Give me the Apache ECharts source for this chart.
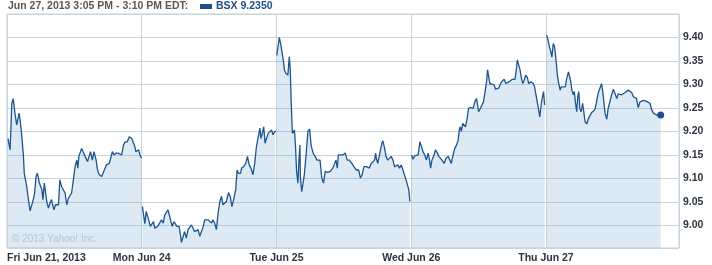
<!DOCTYPE html>
<html><head><meta charset="utf-8">
<script src="https://cdn.jsdelivr.net/npm/echarts@6/dist/echarts.min.js"></script>
<style>html,body{margin:0;padding:0;background:#fff}#c{width:712px;height:265px}</style>
</head><body><div id="c"></div>
<script>
// Trading-day labels (x axis), one trading day = 390 minutes (9:30–16:00)
const dayLabels = ['Fri Jun 21, 2013', 'Mon Jun 24', 'Tue Jun 25', 'Wed Jun 26', 'Thu Jun 27'];
const minutesPerDay = 390;
const headerText = 'Jun 27, 2013 3:05 PM - 3:10 PM EDT:';
const ticker = 'BSX';

// [minutes after open, price]
const fri = [[3,9.185],[9,9.161],[14,9.260],[18,9.270],[23,9.239],[28,9.214],[31,9.210],[35,9.239],[38,9.224],[42,9.196],[47,9.154],[50,9.111],[57,9.083],[62,9.055],[67,9.031],[70,9.031],[76,9.055],[80,9.069],[84,9.104],[88,9.111],[94,9.090],[97,9.090],[101,9.076],[104,9.055],[108,9.090],[112,9.090],[115,9.051],[120,9.037],[124,9.047],[129,9.055],[132,9.044],[136,9.033],[140,9.044],[144,9.040],[149,9.044],[153,9.097],[158,9.083],[163,9.076],[168,9.069],[173,9.044],[178,9.058],[182,9.062],[187,9.069],[192,9.097],[197,9.125],[202,9.139],[205,9.122],[208,9.147],[211,9.150],[216,9.164],[221,9.161],[226,9.147],[233,9.136],[238,9.139],[242,9.157],[247,9.139],[252,9.157],[258,9.139],[262,9.118],[267,9.108],[274,9.104],[279,9.104],[284,9.122],[288,9.129],[296,9.132],[300,9.143],[305,9.157],[310,9.150],[316,9.154],[322,9.154],[327,9.157],[332,9.150],[337,9.171],[342,9.178],[348,9.178],[354,9.189],[361,9.185],[366,9.183],[370,9.168],[373,9.157],[378,9.157],[381,9.161],[385,9.150],[389,9.143]];
const mon = [[2,9.040],[6,9.019],[9,9.004],[13,9.030],[16,9.026],[20,9.012],[25,8.998],[30,8.998],[34,9.008],[38,8.994],[42,8.998],[47,8.999],[52,8.996],[57,9.012],[62,9.005],[67,9.023],[71,9.019],[76,9.033],[81,9.019],[88,8.998],[93,9.008],[97,9.012],[102,8.998],[108,8.998],[112,8.980],[115,8.964],[120,8.977],[124,8.987],[129,8.973],[134,8.991],[139,8.992],[144,9.001],[149,8.998],[153,8.987],[158,8.984],[163,8.991],[168,8.977],[173,8.980],[178,8.998],[182,9.012],[187,9.008],[192,9.012],[197,9.008],[202,9.005],[206,9.012],[211,9.005],[216,8.991],[221,9.026],[226,9.051],[231,9.062],[235,9.044],[240,9.040],[245,9.051],[251,9.070],[256,9.062],[261,9.040],[266,9.055],[272,9.076],[276,9.118],[280,9.111],[286,9.111],[289,9.122],[295,9.125],[301,9.132],[306,9.147],[311,9.129],[316,9.122],[322,9.108],[327,9.132],[332,9.168],[337,9.171],[342,9.207],[345,9.185],[349,9.196],[353,9.210],[357,9.175],[361,9.185],[366,9.196],[370,9.200],[376,9.203],[380,9.193],[385,9.200],[389,9.200]];
const tue = [[1,9.362],[8,9.400],[12,9.387],[15,9.373],[19,9.355],[23,9.331],[27,9.324],[33,9.320],[37,9.359],[40,9.331],[42,9.274],[46,9.196],[49,9.193],[52,9.203],[55,9.168],[58,9.118],[62,9.090],[65,9.139],[68,9.171],[69,9.104],[73,9.072],[77,9.090],[81,9.111],[86,9.154],[91,9.200],[96,9.205],[100,9.171],[106,9.154],[112,9.147],[117,9.139],[122,9.143],[126,9.139],[131,9.101],[136,9.090],[141,9.115],[147,9.113],[151,9.111],[156,9.115],[163,9.122],[168,9.125],[172,9.139],[176,9.122],[179,9.150],[185,9.150],[192,9.150],[199,9.154],[205,9.139],[211,9.139],[218,9.132],[224,9.125],[231,9.118],[235,9.115],[238,9.118],[243,9.101],[248,9.108],[253,9.125],[260,9.125],[264,9.125],[269,9.122],[274,9.132],[279,9.136],[284,9.139],[287,9.154],[289,9.143],[293,9.132],[297,9.134],[301,9.161],[305,9.175],[308,9.180],[313,9.164],[317,9.147],[322,9.139],[327,9.136],[332,9.147],[337,9.139],[342,9.125],[346,9.122],[351,9.129],[356,9.122],[361,9.129],[366,9.118],[370,9.108],[375,9.097],[380,9.101],[383,9.076],[386,9.051]];
const wed = [[1,9.150],[5,9.141],[10,9.148],[15,9.150],[20,9.150],[25,9.178],[29,9.169],[34,9.157],[39,9.150],[44,9.139],[49,9.154],[53,9.139],[56,9.122],[60,9.139],[66,9.150],[70,9.161],[75,9.155],[80,9.147],[84,9.143],[89,9.139],[95,9.132],[101,9.143],[107,9.147],[112,9.139],[116,9.132],[121,9.150],[126,9.164],[131,9.171],[136,9.182],[139,9.203],[142,9.210],[145,9.200],[149,9.217],[153,9.214],[157,9.210],[161,9.224],[166,9.249],[172,9.251],[179,9.249],[184,9.263],[189,9.270],[191,9.266],[195,9.242],[200,9.249],[205,9.253],[209,9.263],[213,9.281],[218,9.306],[221,9.331],[225,9.313],[228,9.301],[234,9.301],[240,9.299],[244,9.290],[248,9.290],[253,9.292],[258,9.301],[263,9.307],[269,9.311],[274,9.302],[278,9.306],[283,9.306],[288,9.309],[293,9.311],[300,9.311],[303,9.324],[307,9.352],[311,9.355],[315,9.331],[319,9.313],[323,9.302],[327,9.309],[331,9.320],[336,9.315],[340,9.302],[346,9.306],[353,9.302],[357,9.295],[362,9.274],[367,9.253],[372,9.231],[377,9.263],[383,9.285],[386,9.256]];
const thu = [[2,9.405],[6,9.394],[10,9.380],[14,9.370],[17,9.358],[21,9.387],[25,9.380],[29,9.352],[33,9.320],[37,9.302],[41,9.288],[44,9.295],[50,9.295],[56,9.295],[60,9.313],[65,9.327],[68,9.331],[71,9.309],[75,9.288],[79,9.278],[82,9.285],[85,9.263],[89,9.242],[92,9.274],[95,9.285],[98,9.249],[102,9.242],[106,9.260],[110,9.239],[113,9.221],[118,9.216],[123,9.228],[127,9.232],[132,9.240],[137,9.242],[142,9.247],[147,9.251],[151,9.281],[156,9.292],[161,9.302],[166,9.274],[171,9.239],[176,9.226],[180,9.249],[185,9.249],[190,9.278],[195,9.290],[200,9.287],[205,9.270],[209,9.280],[214,9.276],[219,9.278],[224,9.278],[229,9.283],[233,9.285],[238,9.288],[243,9.290],[248,9.283],[253,9.274],[258,9.278],[262,9.270],[267,9.251],[272,9.263],[277,9.260],[282,9.266],[287,9.263],[291,9.264],[296,9.263],[301,9.260],[306,9.246],[311,9.239],[316,9.236],[320,9.235],[325,9.235],[332,9.235]];
const days = [fri, mon, tue, wed, thu];

const FONT = '"Liberation Sans", Arial, sans-serif';
const LINE = '#1d5590';
const GRID = '#c8d4de';

const chart = echarts.init(document.getElementById('c'), null, {renderer: 'canvas'});

const series = days.map((d, i) => ({
  type: 'line',
  data: d.map(p => [i * minutesPerDay + p[0], p[1]]),
  showSymbol: false,
  symbol: 'none',
  lineStyle: {color: LINE, width: 1.3},
  areaStyle: {color: 'rgba(110,165,205,0.33)', origin: 'start'},
  z: 3
}));
const last = thu[thu.length - 1];
series.push({
  type: 'scatter',
  data: [[4 * minutesPerDay + last[0], last[1]]],
  symbolSize: 7,
  itemStyle: {color: '#1f4f8a', opacity: 1},
  z: 5
});

chart.setOption({
  animation: false,
  grid: {left: 7, right: 33, top: 14, bottom: 17, show: true, borderColor: '#c3cfd9', borderWidth: 1},
  xAxis: {
    type: 'value', min: 0, max: 1945, interval: minutesPerDay,
    axisLine: {show: false}, axisTick: {show: false},
    splitLine: {show: true, lineStyle: {color: GRID, width: 1}},
    axisLabel: {
      formatter: v => { const i = Math.round(v / minutesPerDay); return (Math.abs(v - i * minutesPerDay) < 1e-6 && i < dayLabels.length) ? dayLabels[i] : ''; },
      alignMinLabel: 'left', margin: 5,
      fontFamily: FONT, fontWeight: 'bold', fontSize: 10.5, color: '#2c3440'
    }
  },
  yAxis: {
    type: 'value', position: 'right', min: 8.952, max: 9.45, splitNumber: 10,
    minInterval: 0.05, maxInterval: 0.05,
    axisLine: {show: false}, axisTick: {show: false},
    splitLine: {show: true, lineStyle: {color: GRID, width: 1}},
    axisLabel: {
      formatter: v => (v > 8.99 && v < 9.41) ? v.toFixed(2) : '',
      margin: 4, fontFamily: FONT, fontWeight: 'bold', fontSize: 10.5, color: '#2c3440'
    }
  },
  graphic: [
    {type: 'text', left: 8, top: 1, style: {text: headerText, font: 'bold 10.5px ' + FONT, fill: '#5d5750'}},
    {type: 'rect', left: 200, top: 4, shape: {width: 12, height: 5}, style: {fill: '#1f4f8a'}},
    {type: 'text', left: 216, top: 1, style: {text: ticker + ' ' + last[1].toFixed(4), font: 'bold 10.5px ' + FONT, fill: '#1d4f8b'}},
    {type: 'text', left: 12, top: 234, z: 10, style: {text: '\u00a9 2013 Yahoo! Inc.', font: '10px ' + FONT, fill: '#b5c3cd'}}
  ],
  series
});
</script>
</body></html>
